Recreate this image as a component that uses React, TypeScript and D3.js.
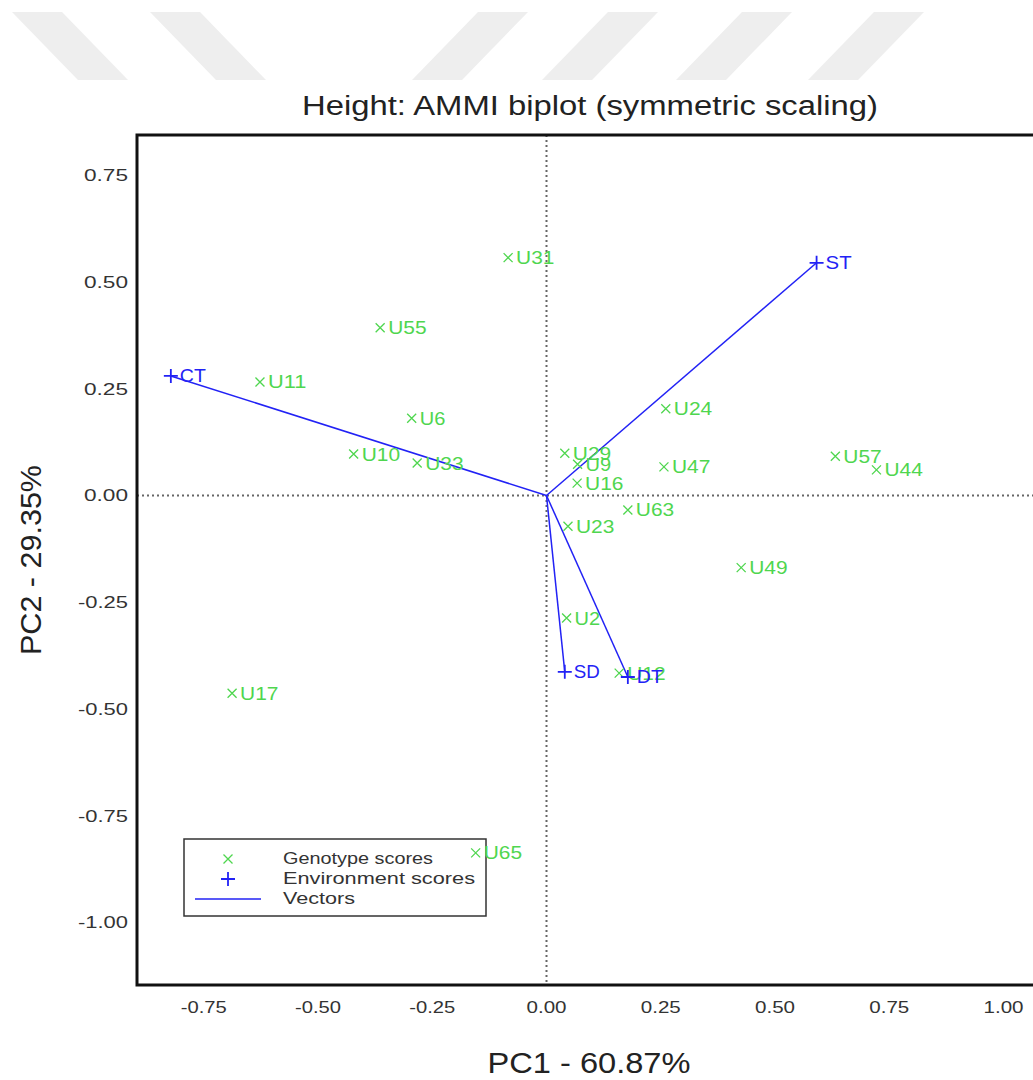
import * as d3 from 'd3';

// genotype scores (PC1, PC2)
const genoNames = ['U31', 'U55', 'U11', 'U6', 'U10', 'U33', 'U29', 'U9', 'U16', 'U24', 'U47', 'U57', 'U44', 'U63', 'U23', 'U49', 'U2', 'U12', 'U17', 'U65'];
const genoPC1 = [-0.084, -0.364, -0.627, -0.295, -0.422, -0.283, 0.040, 0.068, 0.067, 0.261, 0.257, 0.632, 0.722, 0.178, 0.047, 0.426, 0.044, 0.159, -0.688, -0.155];
const genoPC2 = [0.557, 0.393, 0.266, 0.181, 0.097, 0.076, 0.099, 0.073, 0.029, 0.203, 0.067, 0.092, 0.060, -0.034, -0.072, -0.169, -0.287, -0.416, -0.463, -0.837];

// environment scores
const envNames = ['CT', 'ST', 'SD', 'DT'];
const envPC1 = [-0.822, 0.591, 0.040, 0.178];
const envPC2 = [0.280, 0.545, -0.413, -0.425];

const xTicks = [-0.75, -0.5, -0.25, 0, 0.25, 0.5, 0.75, 1.0];
const yTicks = [0.75, 0.5, 0.25, 0, -0.25, -0.5, -0.75, -1.0];

const W = 1033;
const H = 1080;
const left = 137, right = 1042, top = 135, bottom = 985;

const green = '#4fd64f';
const blue = '#2222f5';
const font = 'Liberation Sans, Arial, Helvetica, sans-serif';

// light watermark stripes at the top of the page
const stripes = [
  [[12, 12], [62, 12], [128, 80], [78, 80]],
  [[150, 12], [200, 12], [266, 80], [216, 80]],
  [[478, 12], [528, 12], [462, 80], [412, 80]],
  [[608, 12], [658, 12], [592, 80], [542, 80]],
  [[742, 12], [792, 12], [726, 80], [676, 80]],
  [[874, 12], [924, 12], [858, 80], [808, 80]],
];

const App = () => {
  const x = d3.scaleLinear().domain([(left - 546.5) / 457, (right - 546.5) / 457]).range([left, right]);
  const y = d3.scaleLinear().domain([(495.5 - bottom) / 427, (495.5 - top) / 427]).range([bottom, top]);
  const fmt = (v: number) => v.toFixed(2);

  const cross = (cx: number, cy: number, s: number) => `M${cx - s},${cy - s}L${cx + s},${cy + s}M${cx - s},${cy + s}L${cx + s},${cy - s}`;
  const plus = (cx: number, cy: number, s: number) => `M${cx - s},${cy}L${cx + s},${cy}M${cx},${cy - s}L${cx},${cy + s}`;

  return (
    <svg width={W} height={H} style={{ position: 'absolute', left: 0, top: 0, background: '#fff' }} fontFamily={font}>
      {stripes.map((p, i) => (
        <polygon key={i} points={p.map(d => d.join(',')).join(' ')} fill="#eeeeee" />
      ))}

      <text x={590} y={115} textAnchor="middle" fontSize={27} fill="#222" textLength={576} lengthAdjust="spacingAndGlyphs">
        Height: AMMI biplot (symmetric scaling)
      </text>

      {/* reference lines */}
      <line x1={x(0)} x2={x(0)} y1={top} y2={bottom} stroke="#666" strokeWidth={2} strokeDasharray="2,3" />
      <line x1={left} x2={right} y1={y(0)} y2={y(0)} stroke="#666" strokeWidth={2} strokeDasharray="2,3" />

      {/* legend (drawn under the points) */}
      <g>
        <rect x={184} y={839} width={302} height={77} fill="none" stroke="#333" strokeWidth={1.5} />
        <path d={cross(228, 859, 4.5)} stroke={green} strokeWidth={1.3} fill="none" />
        <path d={plus(228, 879, 7)} stroke={blue} strokeWidth={1.8} fill="none" />
        <line x1={195} x2={261} y1={899} y2={899} stroke={blue} strokeWidth={1.5} />
        <text x={283} y={864} fontSize={17} fill="#333" textLength={150} lengthAdjust="spacingAndGlyphs">Genotype scores</text>
        <text x={283} y={884} fontSize={17} fill="#333" textLength={192} lengthAdjust="spacingAndGlyphs">Environment scores</text>
        <text x={283} y={904} fontSize={17} fill="#333" textLength={72} lengthAdjust="spacingAndGlyphs">Vectors</text>
      </g>

      {/* vectors */}
      {envNames.map((n, i) => (
        <line key={n} x1={x(0)} y1={y(0)} x2={x(envPC1[i])} y2={y(envPC2[i])} stroke={blue} strokeWidth={1.5} />
      ))}

      {/* genotypes */}
      {genoNames.map((n, i) => (
        <g key={n}>
          <path d={cross(x(genoPC1[i]), y(genoPC2[i]), 4.5)} stroke={green} strokeWidth={1.3} fill="none" />
          <text x={x(genoPC1[i]) + 8} y={y(genoPC2[i])} dy="0.36em" fontSize={18} fill={green}
            textLength={n.length * 12.8} lengthAdjust="spacingAndGlyphs">{n}</text>
        </g>
      ))}

      {/* environments */}
      {envNames.map((n, i) => (
        <g key={n}>
          <path d={plus(x(envPC1[i]), y(envPC2[i]), 7)} stroke={blue} strokeWidth={1.8} fill="none" />
          <text x={x(envPC1[i]) + 9} y={y(envPC2[i])} dy="0.36em" fontSize={18} fill={blue}
            textLength={n.length * 13} lengthAdjust="spacingAndGlyphs">{n}</text>
        </g>
      ))}

      {/* frame */}
      <rect x={left} y={top} width={right - left} height={bottom - top} fill="none" stroke="#111" strokeWidth={3} />

      {xTicks.map(t => (
        <text key={t} x={x(t)} y={1013} textAnchor="middle" fontSize={17} fill="#333"
          textLength={t < 0 ? 46 : 40} lengthAdjust="spacingAndGlyphs">{fmt(t)}</text>
      ))}
      {yTicks.map(t => (
        <text key={t} x={128} y={y(t)} dy="0.36em" textAnchor="end" fontSize={16} fill="#333"
          textLength={t < 0 ? 50 : 44} lengthAdjust="spacingAndGlyphs">{fmt(t)}</text>
      ))}

      <text x={589} y={1073} textAnchor="middle" fontSize={29} fill="#222" textLength={203} lengthAdjust="spacingAndGlyphs">PC1 - 60.87%</text>
      <text transform="translate(41,560) rotate(-90)" textAnchor="middle" fontSize={30} fill="#222" textLength={190} lengthAdjust="spacingAndGlyphs">PC2 - 29.35%</text>
    </svg>
  );
};

export default App;
